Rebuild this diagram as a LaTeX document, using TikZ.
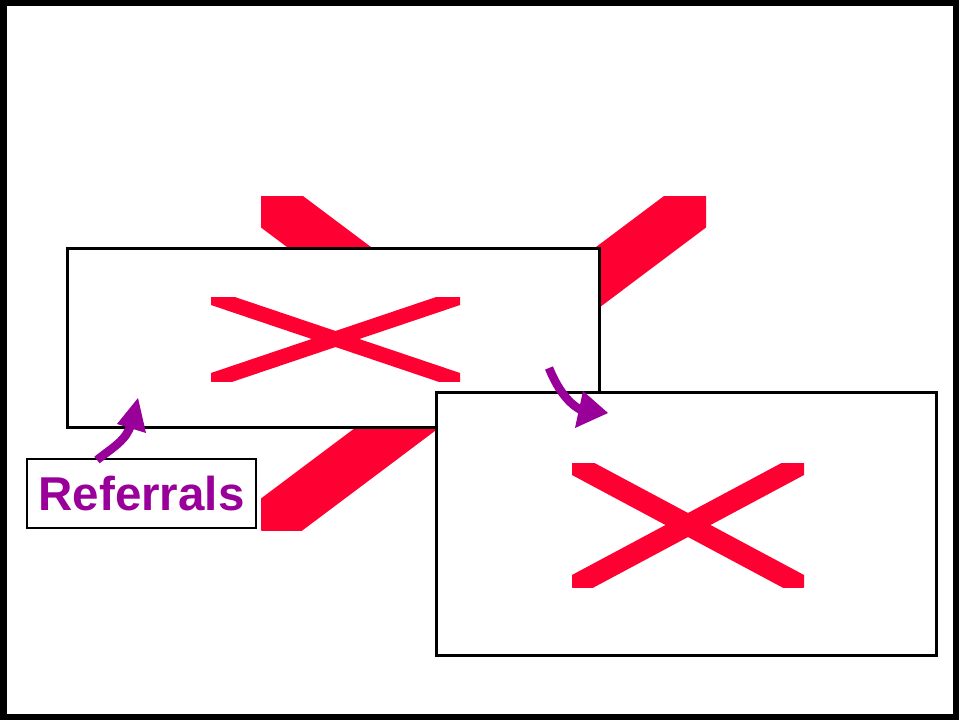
\documentclass[tikz,border=0pt]{standalone}
\usepackage{fontspec}
\setmainfont{Liberation Sans}
\definecolor{xred}{RGB}{255,0,51}
\definecolor{refpurple}{RGB}{153,0,153}
\begin{document}
\begin{tikzpicture}[x=1pt,y=-1pt,
  panel/.style={draw=black,line width=3pt,fill=white,inner sep=0pt,outer sep=0pt},
  cross/.style={xred,line width=#1},
  arrowshaft/.style={refpurple,line width=8.5pt},
  arrowhead/.style={fill=refpurple,draw=none},
  tag/.style={draw=black,line width=1.2pt,fill=white,inner sep=0pt,outer sep=0pt,
    text=refpurple,font=\fontsize{47.5}{50}\selectfont\bfseries}]
\useasboundingbox (0,0) rectangle (959,720);
\fill[white] (0,0) rectangle (959,720);
% big X behind
\begin{scope}
  \clip (261,196) rectangle (706,530);
  \draw[cross=50.4pt] (261,196) -- (706,530);
  \draw[cross=50.4pt] (261,530) -- (706,196);
\end{scope}
% box 1
\node[panel,minimum width=532pt,minimum height=179.5pt] (box1) at (333,337.75) {};
\begin{scope}
  \clip (211,297) rectangle (460,381);
  \draw[cross=15.2pt] (211,297) -- (460,381);
  \draw[cross=15.2pt] (211,381) -- (460,297);
\end{scope}
% box 2
\node[panel,minimum width=499.5pt,minimum height=263pt] (box2) at (686.25,523.5) {};
\begin{scope}
  \clip (572,463) rectangle (804,587);
  \draw[cross=21.2pt] (572,463) -- (804,587);
  \draw[cross=21.2pt] (572,587) -- (804,463);
\end{scope}
% label
\node[tag,minimum width=229pt,minimum height=69pt] (ref) at (141.5,493.5) {Referrals};
% arrow 1: from label up into box 1
\coordinate (a1s) at (97,460);
\coordinate (a1e) at (131,424);
\draw[arrowshaft] (a1s) .. controls (112,448) and (127,440) .. (a1e);
\fill[arrowhead] (117,424) -- (138,398) -- (146,433) -- cycle;
% arrow 2: from box 1 into box 2
\coordinate (a2s) at (549,368);
\coordinate (a2e) at (581,410);
\draw[arrowshaft] (a2s) .. controls (556,385) and (566,402) .. (a2e);
\fill[arrowhead] (583,391) -- (608,413) -- (575,428) -- cycle;
% outer frame
\draw[black,line width=6.5pt] (3.5,3.2) rectangle (955.8,717.2);
\end{tikzpicture}
\end{document}
